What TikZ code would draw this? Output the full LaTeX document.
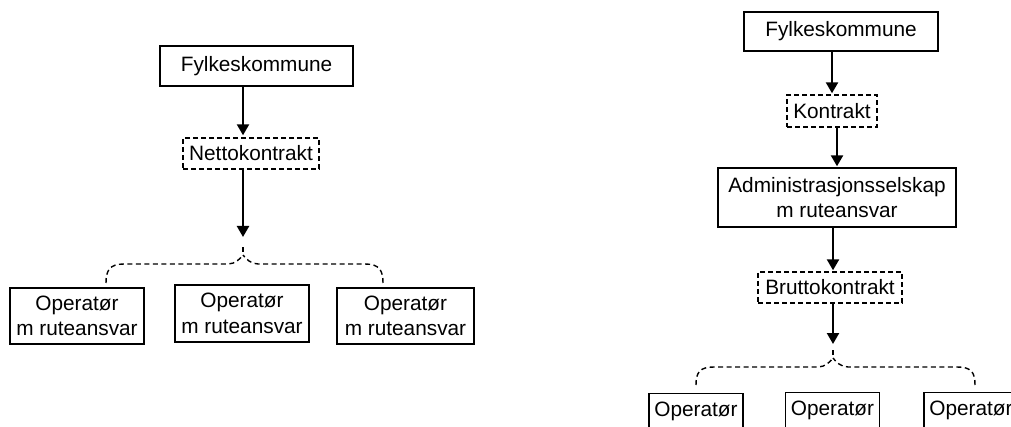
\documentclass[tikz,border=0pt]{standalone}
\usepackage{fontspec}
\setmainfont{Liberation Sans}
\usetikzlibrary{arrows.meta}
\begin{document}
\begin{tikzpicture}[x=1pt,y=-1pt,
  box/.style={draw,line width=1.4pt,inner sep=0pt,align=center,font=\fontsize{20.8}{25.5}\selectfont},
  dbox/.style={box,dash pattern=on 5pt off 3pt},
  rop/.style={draw,line width=1.4pt,inner sep=0pt,font=\fontsize{20.8}{25.5}\selectfont,anchor=north,minimum width=94pt,text height=23pt,text depth=40pt},
  arr/.style={line width=2.3pt,-{Triangle[length=11pt,width=12pt]}},
  brace/.style={line width=1.4pt,dash pattern=on 5pt off 3.5pt}]
\clip (0,0) rectangle (1011,427);
\fill[white] (0,0) rectangle (1011,427);
% left diagram
\coordinate (xL) at (243,0);
\node[box,minimum width=193pt,minimum height=40pt] (Lfk) at (256.5,66) {Fylkeskommune};
\node[dbox,minimum width=136pt,minimum height=31pt] (Lnk) at (251,153.5) {Nettokontrakt};
\node[box,minimum width=134pt,minimum height=56pt] (Lo1) at (77,316) {Operatør\\m ruteansvar};
\node[box,minimum width=134pt,minimum height=57pt] (Lo2) at (242,313.5) {Operatør\\m ruteansvar};
\node[box,minimum width=137pt,minimum height=56pt] (Lo3) at (405.5,316) {Operatør\\m ruteansvar};
\coordinate (apL) at (243,255);
\coordinate (tkL) at (243,245);
\coordinate (bL1) at (106,283);
\coordinate (bL2) at (383,283);
\draw[arr,shorten >=2pt] (Lfk.south -| xL) -- (Lnk.north -| xL);
\draw[arr,shorten >=18pt] (Lnk.south -| xL) -- (apL);
\draw[brace] (bL1) .. controls (106,270) and (110,264) .. (124,264) -- (228,264) .. controls (235,264) and (240,259) .. (apL);
\draw[brace] (bL2) .. controls (383,270) and (379,264) .. (365,264) -- (258,264) .. controls (251,264) and (246,259) .. (apL);
\draw[brace] (apL) ++(0,-3) -- (tkL);
% right diagram
\coordinate (x1) at (832,0);
\coordinate (x2) at (837,0);
\coordinate (x3) at (833,0);
\node[box,minimum width=194pt,minimum height=39pt] (Rfk) at (841,31.5) {Fylkeskommune};
\node[dbox,minimum width=90pt,minimum height=32pt] (Rk) at (832,111) {Kontrakt};
\node[box,minimum width=238pt,minimum height=59pt] (Radm) at (837,197.5) {Administrasjonsselskap\\m ruteansvar};
\node[dbox,minimum width=144pt,minimum height=31pt] (Rb) at (830,287.5) {Bruttokontrakt};
\node[rop] (Ro1) at (696,393) {Operatør};
\node[rop] (Ro2) at (832.5,392) {Operatør};
\node[rop] (Ro3) at (971,392) {Operatør};
\coordinate (apR) at (833,358);
\coordinate (tkR) at (833,348);
\coordinate (bR1) at (696,385);
\coordinate (bR2) at (975,385);
\draw[arr,shorten >=14pt] (Rb.south -| x3) -- (apR);
\draw[arr,shorten >=1pt] (Rfk.south -| x1) -- (Rk.north -| x1);
\draw[arr,shorten >=1pt] (Rk.south -| x2) -- (Radm.north -| x2);
\draw[arr,shorten >=1pt] (Radm.south -| x3) -- (Rb.north -| x3);
\draw[brace] (bR1) .. controls (696,372) and (700,367) .. (714,367) -- (818,367) .. controls (825,367) and (830,362) .. (apR);
\draw[brace] (bR2) .. controls (975,372) and (971,367) .. (957,367) -- (848,367) .. controls (841,367) and (836,362) .. (apR);
\draw[brace] (apR) ++(0,-3) -- (tkR);
\end{tikzpicture}
\end{document}
